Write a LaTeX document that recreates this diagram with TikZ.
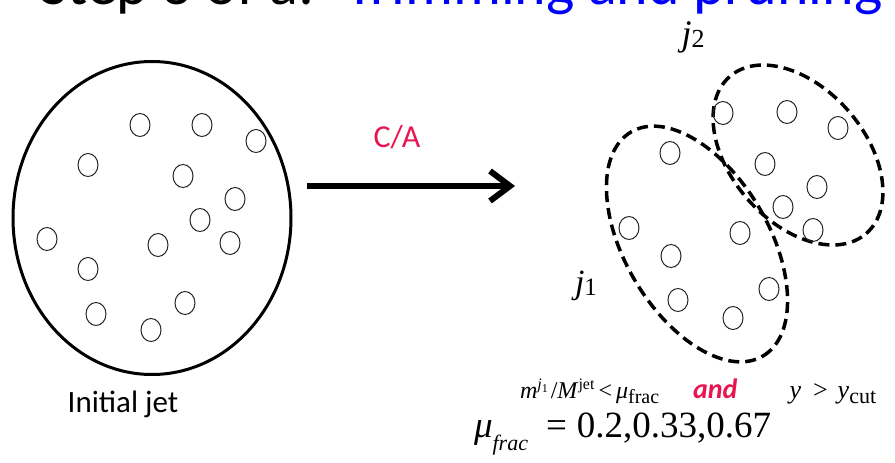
\documentclass[tikz,border=0pt]{standalone}
\usepackage{fontspec}
\setmainfont{Liberation Serif}
\newfontfamily\calfont{Carlito}
\usetikzlibrary{shapes.geometric,arrows.meta}
\definecolor{carmine}{RGB}{232,22,80}
\definecolor{titleblue}{RGB}{0,0,255}
\begin{document}
\begin{tikzpicture}[x=1pt,y=-1pt,
  particle/.style={draw=black!85,line width=1pt,ellipse,minimum width=20pt,minimum height=23pt,inner sep=0pt},
  jetbox/.style={draw=black,line width=3pt,ellipse,inner sep=0pt},
  subjet/.style={draw=black,line width=3.5pt,ellipse,inner sep=0pt,dash pattern=on 11pt off 6pt},
  lbl/.style={inner sep=0pt,outer sep=0pt}]
\useasboundingbox (0,0) rectangle (895,463);
\begin{scope}
  \clip (0,0) rectangle (895,463);
  \node[lbl,anchor=base west,font=\calfont\fontsize{60}{60}\selectfont] (title) at (40,5) {Step 3 of a:};
  \node[lbl,anchor=base west,font=\calfont\fontsize{60}{60}\selectfont,text=titleblue] (title2) at (345,5) {Trimming and pruning};
\end{scope}

% initial jet
\node[jetbox,minimum width=278pt,minimum height=313pt] (jet) at (152,218) {};
\foreach \x/\y [count=\i] in {140/125,202/125,256/141,88/165,183/176,235/199,200/220,47/239,158/245,230/243,88/269,185/303,96/314,151/330}
  \node[particle] (p\i) at (\x,\y) {};
\node[lbl,anchor=base,font=\calfont\fontsize{31}{31}\selectfont] (init) at (123,412) {Initial jet};

% arrow
\coordinate (arrS) at (307,186);
\coordinate (arrE) at (515,186);
\draw[line width=6pt,-{Straight Barb[length=20pt,width=30pt]}] (arrS) -- (arrE);
\node[lbl,font=\calfont\fontsize{32}{32}\selectfont,text=carmine] (ca) at (397,137) {C/A};

% subjets
\node[subjet,minimum width=260pt,minimum height=144pt,rotate=-59.5] (j1e) at (697,244) {};
\node[subjet,minimum width=208pt,minimum height=134pt,rotate=-49] (j2e) at (798,155) {};
\foreach \x/\y [count=\i] in {723/113,787/112,838/128,670/153,765/164,817/187,783/207,813/230,629/228,740/233,671/256,769/289,678/300,733/318}
  \node[particle] (q\i) at (\x,\y) {};
\node[lbl,font=\fontsize{36}{36}\selectfont] (j2lab) at (693,37) {\textit{j}\raisebox{-2pt}{\fontsize{26}{26}\selectfont 2}};
\node[lbl,font=\fontsize{34}{34}\selectfont] (j1lab) at (586,286) {\textit{j}\raisebox{-2pt}{\fontsize{25}{25}\selectfont 1}};

% conditions
\node[lbl,anchor=base west,font=\fontsize{24}{24}\selectfont] (cond) at (520,398)
  {\textit{m}\raisebox{9pt}{\fontsize{16}{16}\selectfont\textit{j}\raisebox{-3pt}{\fontsize{12}{12}\selectfont 1}}\hspace{3pt}/\textit{M}\raisebox{9pt}{\fontsize{16}{16}\selectfont jet}\hspace{4pt}{<}\hspace{4pt}\textit{μ}\raisebox{-5pt}{\fontsize{20}{20}\selectfont frac}\hspace{34pt}{\calfont\bfseries\itshape\color{carmine}\fontsize{28}{28}\selectfont and}\hspace{52pt}{\fontsize{26}{26}\selectfont\textit{y}\hspace{12pt}{>}\hspace{10pt}\textit{y}\raisebox{-5pt}{\fontsize{22}{22}\selectfont cut}}};
\node[lbl,anchor=base west,font=\fontsize{37}{37}\selectfont] (mufrac) at (474,437)
  {\textit{μ}\raisebox{-13pt}{\fontsize{22}{22}\selectfont\textit{frac}}\hspace{18pt}=\hspace{10pt}0.2,0.33,0.67};
\end{tikzpicture}
\end{document}
